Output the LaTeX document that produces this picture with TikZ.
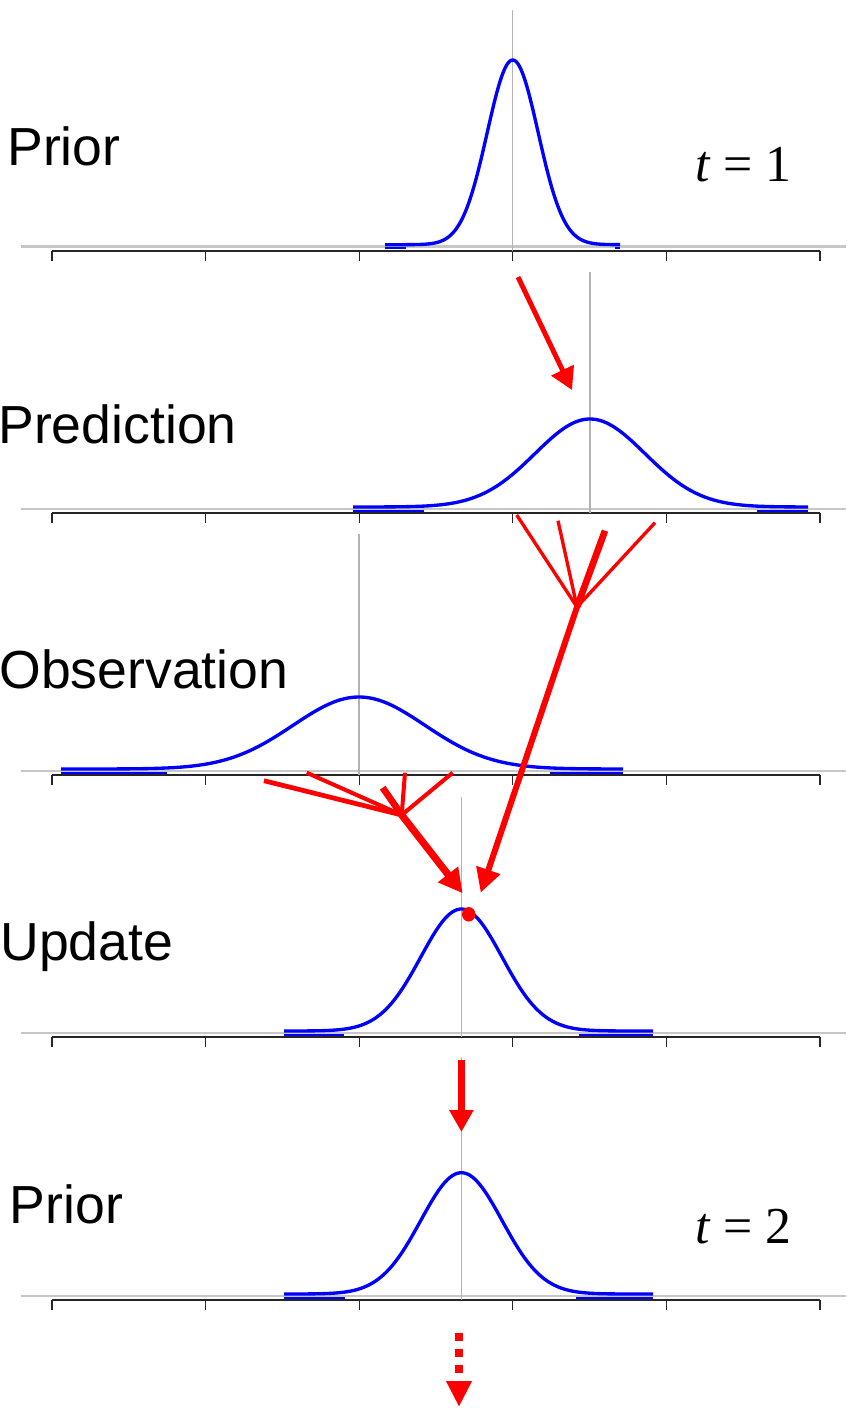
\documentclass[tikz,border=0pt]{standalone}
\usepackage{fontspec}
\setmainfont{Liberation Sans}
\newfontfamily\timesfont{Liberation Serif}
\usetikzlibrary{arrows.meta,shapes.geometric}

\begin{document}
\begin{tikzpicture}[x=0.02cm,y=-0.02cm,
    panelname/.style={anchor=base west,inner sep=0pt,font=\fontsize{30.5}{36}\selectfont},
    timename/.style={anchor=base west,inner sep=0pt,font=\timesfont\fontsize{29.5}{34}\selectfont},
    zeroline/.style={black!22,line width=1.6pt},
    axisline/.style={black!85,line width=1.1pt},
    tickline/.style={black!85,line width=0.6pt},
    meanline/.style={black!30,line width=0.6pt},
    density/.style={blue,line width=1.9pt},
    tailbar/.style={blue,line width=1.2pt},
    fanleg/.style={red,line width=#1},
    flowarrow/.style={red,line width=#1,-{Triangle[length=0.48cm,width=0.48cm]}}]

  \useasboundingbox (0,0) rectangle (846,1408);

  % zero line, mean, amplitude, sigma, curve range, low tail bars, top of mean line
  \foreach \yb/\mean/\amp/\sd/\xa/\xb/\la/\lb/\ra/\rb/\ytop in {
      246.7/512.7/184.7/25.5/385/620/385/406/615/620/10,
      509/590/88/55/353/808/353/424/757/808/272,
      771/359/72/66/61/623/61/167/550/623/534,
      1033/461.4/122/40.6/284/653/284/344/579/653/797,
      1296/461.4/121.3/40.6/284/653/284/345/576/653/1057}{
    \draw[zeroline] (20.5,\yb) -- (846,\yb);
    \draw[axisline] (52,\yb+4) -- (820,\yb+4);
    \foreach \tk in {52,205.6,359.2,512.8,666.4,820}
      \draw[tickline] (\tk,\yb+4) -- (\tk,\yb+14);
    \draw[meanline] (\mean,\ytop) -- (\mean,\yb+4);
    \draw[density] plot[domain=\xa:\xb,samples=150]
      (\x,{\yb-2-\amp*exp(-0.5*((\x-\mean)/\sd)*((\x-\mean)/\sd))});
    \draw[tailbar] (\la,\yb+1.7) -- (\lb,\yb+1.7) (\ra,\yb+1.7) -- (\rb,\yb+1.7);
  }

  \node[panelname] (prior1) at (7,166) {Prior};
  \node[panelname] (pred) at (-2,443) {Prediction};
  \node[panelname] (obs) at (-1,688) {Observation};
  \node[panelname] (upd) at (0,960) {Update};
  \node[panelname] (prior2) at (9.5,1223) {Prior};
  \node[timename] (t1) at (695,182) {\textit{t} = 1};
  \node[timename] (t2) at (695,1243) {\textit{t} = 2};

  \coordinate (priorstart) at (518,277);
  \coordinate (predpeak) at (572,390);
  \coordinate (hubpred) at (577,607);
  \coordinate (hubobs) at (401.7,815);
  \coordinate (updleft) at (462.7,893.3);
  \coordinate (updright) at (480.7,892.7);
  \coordinate (downstart) at (461.4,1060);
  \coordinate (downend) at (461.4,1132);
  \coordinate (nextstart) at (459,1333);
  \coordinate (nextend) at (459,1407);

  \draw[flowarrow=2.8pt,-{Triangle[length=0.44cm,width=0.48cm]}] (priorstart) -- (predpeak);

  \foreach \n/\px/\py/\w in {pa/516.7/515/1.9pt, pb/558/520.7/1.9pt,
      pc/605/530.7/3.8pt, pd/655/522.7/1.9pt}{
    \coordinate (\n) at (\px,\py);
    \draw[fanleg=\w] (\n) -- (hubpred);
  }
  \foreach \n/\px/\py/\w in {oa/264/780.7/2.7pt, ob/306.7/772.7/2.3pt,
      oc/382.7/787.7/3.8pt, od/405/772.7/2.3pt, oe/452.7/772.7/2.3pt}{
    \coordinate (\n) at (\px,\py);
    \draw[fanleg=\w] (\n) -- (hubobs);
  }

  \draw[flowarrow=3.4pt] (hubpred) -- (updright);
  \draw[flowarrow=4.1pt] (hubobs) -- (updleft);
  \node[ellipse,fill=red,inner sep=0pt,minimum width=0.27cm,minimum height=0.29cm]
    (mapest) at (468.7,914.3) {};

  \draw[flowarrow=4.4pt,-{Triangle[length=0.44cm,width=0.46cm]}] (downstart) -- (downend);
  \draw[flowarrow=4.4pt,-{Triangle[length=0.52cm,width=0.48cm]},
    dash pattern=on 0.15cm off 0.17cm] (nextstart) -- (nextend);
\end{tikzpicture}
\end{document}
